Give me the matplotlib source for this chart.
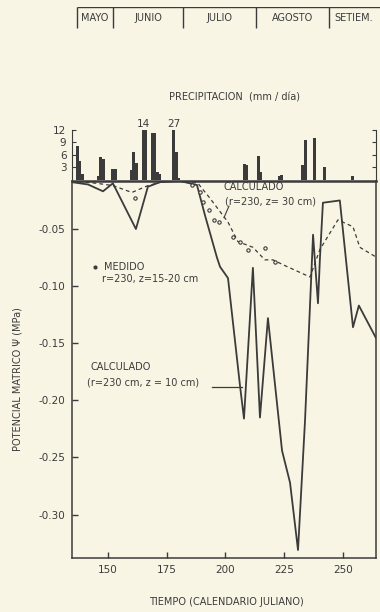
import matplotlib.pyplot as plt
import numpy as np

# precipitacion diaria (dia juliano, mm/dia)
lluvia_dia = [137, 138, 139, 146, 147, 148, 152, 153, 160, 161, 162, 165, 166,
              169, 170, 171, 172, 178, 179, 180, 208, 209, 214, 215, 223, 224,
              233, 234, 238, 242, 254]
lluvia_mm = [8.2, 4.5, 1.5, 1.0, 5.5, 5.0, 2.6, 2.6, 2.5, 6.8, 4.0, 14, 12,
             11.3, 11.3, 2.0, 1.5, 27, 6.7, 0.5, 3.8, 3.5, 5.8, 2.0, 1.0, 1.3,
             3.6, 9.6, 10.0, 3.1, 0.9]

# potencial calculado r=230 cm, z=10 cm
z10_dia = [134.7, 141.5, 147.9, 152.1, 161.9, 167.0, 172.1, 180.7, 187.9, 191.3,
           196.4, 197.7, 201.1, 206.2, 207.9, 211.7, 214.7, 218.1, 224.1, 227.5,
           230.9, 233.9, 235.1, 237.3, 239.4, 240.2, 241.5, 248.7, 254.3, 256.8,
           264.5]
z10_psi = [-0.009, -0.011, -0.017, -0.010, -0.050, -0.013, -0.009, -0.008, -0.0115,
           -0.038, -0.075, -0.083, -0.093, -0.187, -0.216, -0.084, -0.215, -0.128,
           -0.244, -0.272, -0.331, -0.217, -0.160, -0.055, -0.115, -0.077, -0.027,
           -0.025, -0.136, -0.117, -0.147]

# potencial calculado r=230 cm, z=30 cm
z30_dia = [134.7, 145.3, 152.1, 160.2, 167.0, 174.3, 184.1, 188.3, 193.4, 201.1,
           205.3, 211.7, 216.8, 220.2, 225.3, 236.0, 240.2, 247.9, 254.3, 257.2,
           264.5]
z30_psi = [-0.008, -0.010, -0.012, -0.018, -0.012, -0.008, -0.008, -0.010, -0.023,
           -0.044, -0.061, -0.066, -0.077, -0.077, -0.082, -0.092, -0.068, -0.042,
           -0.048, -0.066, -0.075]

# potencial medido r=230, z=15-20 cm
med_dia = [161.5, 185.8, 189.2, 190.4, 193.0, 195.1, 197.3, 203.2, 206.2, 209.6,
           216.8, 221.1]
med_psi = [-0.023, -0.0115, -0.018, -0.026, -0.033, -0.042, -0.044, -0.057,
           -0.061, -0.068, -0.067, -0.079]

meses = ['MAYO', 'JUNIO', 'JULIO', 'AGOSTO', 'SETIEM.']
meses_lim = [137, 152, 182, 213, 244, 265]

fondo = '#f8f5e4'
tinta = '#3b3b3b'
plt.rcParams['font.family'] = ['DejaVu Sans']
plt.rcParams['text.color'] = tinta
plt.rcParams['axes.edgecolor'] = tinta
plt.rcParams['xtick.color'] = tinta
plt.rcParams['ytick.color'] = tinta

x0, x1 = 134.7, 264.1

fig = plt.figure(figsize=(3.8, 6.12), dpi=100, facecolor=fondo)

# grafico principal
ax = fig.add_axes([0.1895, 0.0882, 0.8, 0.616], facecolor=fondo)
ax.plot(z10_dia, z10_psi, color=tinta, lw=1.3)
ax.plot(z30_dia, z30_psi, color=tinta, lw=0.9, ls=(0, (3, 2.5)))
ax.plot(med_dia, med_psi, ls='none', marker='o', ms=2.4, mfc=fondo,
        mec=tinta, mew=0.8)
ax.set_xlim(x0, x1)
ax.set_ylim(-0.338, -0.008)
ax.set_xticks([150, 175, 200, 225, 250])
ax.set_yticks([-0.05, -0.10, -0.15, -0.20, -0.25, -0.30])
ax.set_yticklabels(['-0.05', '-0.10', '-0.15', '-0.20', '-0.25', '-0.30'])
ax.tick_params(direction='in', length=4, width=1, labelsize=7.5, pad=5)
for s in ['left', 'bottom', 'right']:
    ax.spines[s].set_linewidth(1.1)
ax.spines['top'].set_linewidth(1.8)

ax.text(199, -0.013, 'CALCULADO', fontsize=7, va='center')
ax.text(199.8, -0.026, '(r=230, z= 30 cm)', fontsize=7, va='center')
ax.plot([201.5, 199.4], [-0.030, -0.040], color=tinta, lw=0.8)
ax.plot([144.5], [-0.083], marker='o', ms=2, color=tinta)
ax.text(148.3, -0.083, 'MEDIDO', fontsize=7, va='center')
ax.text(147.5, -0.094, 'r=230, z=15-20 cm', fontsize=7, va='center')
ax.text(142.4, -0.171, 'CALCULADO', fontsize=7, va='center')
ax.text(141.1, -0.184, '(r=230 cm, z = 10 cm)', fontsize=7, va='center')
ax.plot([194.3, 207.0], [-0.188, -0.188], color=tinta, lw=0.9)

# precipitacion
axp = fig.add_axes([0.1895, 0.7059, 0.8, 0.0817], facecolor='none')
axp.bar(lluvia_dia, np.minimum(lluvia_mm, 12), width=1.3, color=tinta)
for d, mm in zip(lluvia_dia, lluvia_mm):
    if mm > 12:
        axp.text(d, 12.3, str(mm), fontsize=7.5, ha='center', va='bottom')
axp.set_xlim(x0, x1)
axp.set_ylim(0, 12)
axp.set_yticks([3, 6, 9, 12])
axp.set_xticks([])
axp.tick_params(direction='in', length=3, labelsize=7.5, pad=4,
                right=True)
axp.spines['top'].set_visible(False)
axp.spines['bottom'].set_visible(False)

# barra de meses
axm = fig.add_axes([0.1895, 0.951, 0.8105, 0.038], facecolor='none')
axm.set_xlim(x0, x0 + 308 / 2.35)
axm.set_ylim(0, 1)
axm.hlines(1, meses_lim[0], meses_lim[-1] + 2, color=tinta, lw=1)
axm.vlines(meses_lim[:-1], 0.1, 1, color=tinta, lw=1)
for i, m in enumerate(meses):
    axm.text((meses_lim[i] + meses_lim[i + 1]) / 2, 0.5, m, fontsize=7,
             ha='center', va='center')
axm.axis('off')

fig.text(0.618, 0.8415, 'PRECIPITACION  (mm / día)', fontsize=7,
         ha='center', va='center')
fig.text(0.597, 0.017, 'TIEMPO (CALENDARIO JULIANO)', fontsize=7,
         ha='center', va='center')
fig.text(0.045, 0.38, 'POTENCIAL MATRICO Ψ (MPa)', fontsize=7,
         ha='center', va='center', rotation=90)

fig.savefig('out.png', dpi=100, facecolor=fondo)
